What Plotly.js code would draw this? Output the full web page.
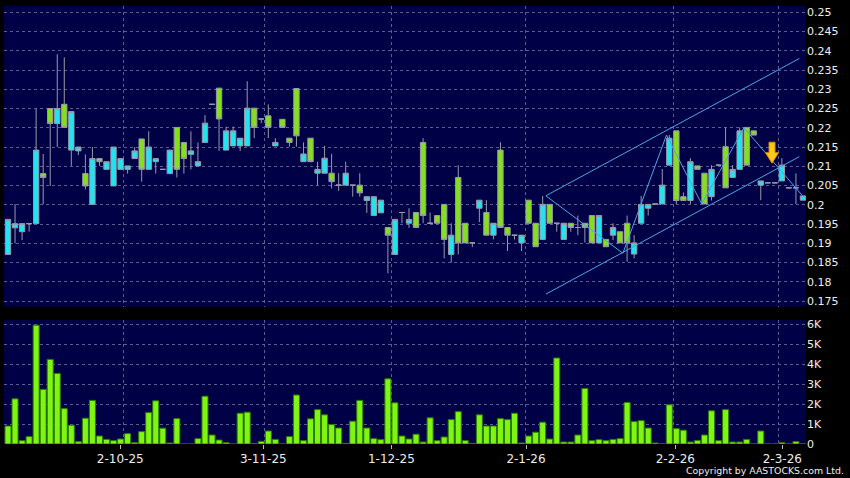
<!DOCTYPE html>
<html>
<head>
<meta charset="utf-8">
<script src="https://cdn.plot.ly/plotly-3.0.1.min.js"></script>
<style>
html,body{margin:0;padding:0;background:#000;}
#chart{width:850px;height:478px;}
</style>
</head>
<body>
<div id="chart"></div>
<script>
// ---- data ----
const openP  = [0.1871,0.1940,0.1930,0.1951,0.1951,0.2081,0.2250,0.2211,0.2261,0.2142,
0.2140,0.2081,0.2001,0.2120,0.2092,0.2049,0.2092,0.2092,0.2120,0.2171,
0.2092,0.2112,0.2092,0.2081,0.2201,0.2162,0.2131,0.2101,0.2162,0.2261,
0.2303,0.2142,0.2153,0.2153,0.2153,0.2251,0.2223,0.2231,0.2153,0.2222,
0.2173,0.2302,0.2112,0.2173,0.2082,0.2082,0.2082,0.2051,0.2051,0.2051,
0.2051,0.2011,0.1972,0.1979,0.1941,0.1871,0.1980,0.1952,0.1980,0.2162,
0.1952,0.1972,0.2001,0.1871,0.2071,0.1952,0.1901,0.1991,0.1980,0.1921,
0.2142,0.1941,0.1921,0.1901,0.2012,0.1952,0.1910,0.2001,0.1952,0.1910,
0.1952,0.1941,0.1952,0.1972,0.1901,0.1910,0.1921,0.1930,0.1952,0.1872,
0.1952,0.1991,0.2002,0.2002,0.2103,0.2192,0.2021,0.2011,0.2101,0.2082,
0.2021,0.2103,0.2151,0.2071,0.2092,0.2201,0.2192,0.2051,0.2057,0.2057,
0.2062,0.2044,0.2044,0.2012];
const highP  = [0.1962,0.2002,0.1951,0.1951,0.2250,0.2132,0.2250,0.2391,0.2383,0.2242,
0.2150,0.2131,0.2150,0.2120,0.2112,0.2150,0.2120,0.2101,0.2150,0.2171,
0.2191,0.2120,0.2092,0.2142,0.2201,0.2162,0.2191,0.2162,0.2233,0.2261,
0.2303,0.2203,0.2203,0.2173,0.2321,0.2251,0.2223,0.2261,0.2173,0.2222,
0.2173,0.2302,0.2162,0.2173,0.2112,0.2153,0.2132,0.2082,0.2112,0.2051,
0.2082,0.2021,0.2021,0.2012,0.1941,0.1962,0.1980,0.1991,0.1980,0.2173,
0.1980,0.1972,0.2001,0.1952,0.2103,0.1952,0.1901,0.2012,0.2012,0.1952,
0.2162,0.1941,0.1921,0.1921,0.2012,0.1952,0.2023,0.2001,0.1952,0.1952,
0.1952,0.1972,0.1952,0.1972,0.1972,0.1910,0.1952,0.1930,0.1972,0.1921,
0.2023,0.2001,0.2002,0.2093,0.2181,0.2192,0.2032,0.2121,0.2101,0.2082,
0.2103,0.2103,0.2201,0.2103,0.2201,0.2201,0.2192,0.2062,0.2057,0.2057,
0.2121,0.2044,0.2082,0.2023];
const lowP   = [0.1871,0.1900,0.1908,0.1930,0.1951,0.2001,0.2049,0.2150,0.2201,0.2101,
0.2129,0.2040,0.2001,0.2101,0.2092,0.2049,0.2092,0.2081,0.2120,0.2060,
0.2092,0.2081,0.2092,0.2081,0.2071,0.2081,0.2092,0.2101,0.2162,0.2261,
0.2140,0.2142,0.2153,0.2140,0.2153,0.2173,0.2212,0.2173,0.2153,0.2201,
0.2151,0.2151,0.2112,0.2112,0.2051,0.2082,0.2043,0.2036,0.2051,0.2021,
0.2021,0.1979,0.1972,0.1979,0.1822,0.1871,0.1952,0.1940,0.1941,0.1952,
0.1952,0.1952,0.1861,0.1850,0.1871,0.1901,0.1890,0.1955,0.1921,0.1910,
0.1941,0.1880,0.1910,0.1880,0.1952,0.1891,0.1910,0.1952,0.1930,0.1910,
0.1930,0.1921,0.1902,0.1901,0.1901,0.1891,0.1908,0.1901,0.1852,0.1861,
0.1952,0.1972,0.2002,0.2002,0.2103,0.2002,0.2011,0.2002,0.2092,0.2002,
0.2011,0.2103,0.2044,0.2071,0.2092,0.2103,0.2181,0.2012,0.2057,0.2057,
0.2062,0.2044,0.2002,0.2012];
const closeP = [0.1962,0.1951,0.1951,0.1951,0.2142,0.2071,0.2211,0.2250,0.2201,0.2242,
0.2150,0.2049,0.2120,0.2112,0.2112,0.2150,0.2120,0.2101,0.2140,0.2092,
0.2150,0.2120,0.2092,0.2142,0.2092,0.2120,0.2140,0.2112,0.2212,0.2261,
0.2223,0.2192,0.2192,0.2173,0.2251,0.2201,0.2223,0.2201,0.2162,0.2201,
0.2162,0.2179,0.2132,0.2112,0.2092,0.2121,0.2060,0.2051,0.2082,0.2051,
0.2031,0.2021,0.2021,0.2012,0.1921,0.1962,0.1980,0.1962,0.1941,0.1972,
0.1952,0.1952,0.1910,0.1921,0.1901,0.1901,0.1901,0.2012,0.1921,0.1952,
0.1941,0.1921,0.1921,0.1921,0.1952,0.1891,0.2001,0.1952,0.1952,0.1952,
0.1941,0.1941,0.1941,0.1901,0.1972,0.1891,0.1941,0.1901,0.1901,0.1901,
0.2001,0.2001,0.2002,0.2051,0.2173,0.2011,0.2011,0.2112,0.2092,0.2002,
0.2092,0.2103,0.2044,0.2092,0.2192,0.2103,0.2181,0.2062,0.2057,0.2057,
0.2103,0.2044,0.2044,0.2023];
// volume in thousands of shares
const volumeK = [0.90,2.26,0.17,0.37,5.94,2.73,4.23,3.53,1.77,0.94,
0.12,1.29,2.18,0.40,0.23,0.17,0.25,0.52,0.07,0.62,
1.57,2.16,0.79,0.05,1.27,0,0,0.27,2.39,0.45,
0.20,0.07,0,1.54,1.59,0.02,0.13,0.65,0.23,0,
0.37,2.45,0.17,1.26,1.72,1.46,0.97,0.80,0.03,1.14,
2.18,0.80,0.27,0.22,3.26,2.06,0.40,0.25,0.49,0.10,
1.31,0.17,0.35,1.22,1.62,0.17,0.03,1.46,0.90,0.90,
1.27,1.22,1.54,0.05,0.40,0.59,1.09,0.25,4.30,0.10,
0.10,0.45,2.78,0.17,0.22,0.17,0.23,0.27,2.08,1.12,
1.17,0.80,0.05,0,1.96,0.77,0.69,0.10,0.18,0.45,
1.66,0.17,1.72,0.10,0.10,0.23,0,0.65,0,0,
0.07,0,0.12,0];
const dayIdx = openP.map((_, i) => i);

// date axis labels (trading-day index positions)
const dateLabels   = ['2-10-25','3-11-25','1-12-25','2-1-26','2-2-26','2-3-26'];
const dateLabelIdx = [15.96, 36.29, 54.49, 73.63, 94.85, 110.06];
const dateGridIdx  = [16.39, 36.43, 54.51, 73.56, 94.57, 109.52];

// price & volume tick labels
const priceTicks = [0.175,0.18,0.185,0.19,0.195,0.2,0.205,0.21,0.215,0.22,0.225,0.23,0.235,0.24,0.245,0.25];
const priceTickText = ['0.175','0.18','0.185','0.19','0.195','0.2','0.205','0.21','0.215','0.22','0.225','0.23','0.235','0.24','0.245','0.25'];
const volTicks = [0,1,2,3,4,5,6];
const volTickText = ['0','1K','2K','3K','4K','5K','6K'];

// drawn channel & zigzag
const channelUpperX = [76.47, 112.48];
const channelUpperY = [0.20235, 0.2380];
const channelLowerX = [76.47, 112.48];
const channelLowerY = [0.1768, 0.2125];
const zigzagX = [76.47, 87.4, 93.6, 98.6, 104.6, 113.05];
const zigzagY = [0.2023, 0.1874, 0.2181, 0.2002, 0.2200, 0.2021];
// signal arrow (tip)
const arrowIdx = 108.6;
const arrowPrice = 0.2108;

// ---- styling ----
const NAVY = '#000046';
const GRID = '#5c5c92';
const CYAN = '#22e4f0';
const LIME = '#84e01c';
const WICK = '#9a9aa8';
const LINE = '#4aa6e6';
const TXT  = '#eeeeee';
const FONT = 'DejaVu Sans, Verdana, sans-serif';
const xRange = [-0.569, 113.43];

const traces = [
  {
    type: 'candlestick', x: dayIdx, open: openP, high: highP, low: lowP, close: closeP,
    xaxis: 'x', yaxis: 'y',
    increasing: {fillcolor: CYAN, line: {color: WICK, width: 1}},
    decreasing: {fillcolor: LIME, line: {color: WICK, width: 1}},
    whiskerwidth: 0, hoverinfo: 'skip', showlegend: false
  },
  {type: 'scatter', mode: 'lines', x: channelUpperX, y: channelUpperY, xaxis: 'x', yaxis: 'y',
   line: {color: LINE, width: 1}, hoverinfo: 'skip', showlegend: false},
  {type: 'scatter', mode: 'lines', x: channelLowerX, y: channelLowerY, xaxis: 'x', yaxis: 'y',
   line: {color: LINE, width: 1}, hoverinfo: 'skip', showlegend: false},
  {type: 'scatter', mode: 'lines', x: zigzagX, y: zigzagY, xaxis: 'x', yaxis: 'y',
   line: {color: LINE, width: 1}, hoverinfo: 'skip', showlegend: false},
  {
    type: 'bar', x: dayIdx, y: volumeK, xaxis: 'x2', yaxis: 'y2',
    marker: {color: '#7ef512', line: {color: '#2e7a00', width: 1}},
    hoverinfo: 'skip', showlegend: false
  }
];

const yTickFont = {family: FONT, size: 11, color: TXT};

const layout = {
  width: 850, height: 478,
  margin: {l: 4, r: 44, t: 6, b: 34, pad: 0},
  paper_bgcolor: '#000000',
  plot_bgcolor: NAVY,
  showlegend: false,
  boxgap: 0.24, boxgroupgap: 0,
  bargap: 0.14,
  xaxis: {
    domain: [0, 1], anchor: 'y', range: xRange,
    tickmode: 'array', tickvals: dateGridIdx, showticklabels: false, ticks: '',
    showgrid: true, gridcolor: GRID, griddash: '3px,3px', gridwidth: 1,
    zeroline: false, showline: false, rangeslider: {visible: false}, fixedrange: true
  },
  yaxis: {
    domain: [0.3139, 1], anchor: 'x', side: 'right', range: [0.17357, 0.25164],
    tickmode: 'array', tickvals: priceTicks, ticktext: priceTickText,
    tickprefix: '- ', ticks: '', tickfont: yTickFont,
    showgrid: true, gridcolor: GRID, griddash: '3px,3px', gridwidth: 1,
    zeroline: false, showline: false, fixedrange: true
  },
  xaxis2: {
    domain: [0, 1], anchor: 'y2', range: xRange,
    tickmode: 'array', tickvals: dateLabelIdx, ticktext: dateLabels,
    ticks: 'outside', ticklen: 4, tickcolor: '#bbbbbb', tickwidth: 1,
    tickfont: {family: FONT, size: 12, color: TXT},
    showgrid: false,
    minor: {tickmode: 'array', tickvals: dateGridIdx, showgrid: true, gridcolor: GRID, griddash: '3px,3px', gridwidth: 1, ticks: ''},
    zeroline: false, showline: false, fixedrange: true
  },
  yaxis2: {
    domain: [0, 0.2831], anchor: 'x2', side: 'right', range: [0, 6.2],
    tickmode: 'array', tickvals: volTicks, ticktext: volTickText,
    tickprefix: '- ', ticks: '', tickfont: yTickFont,
    showgrid: true, gridcolor: GRID, griddash: '3px,3px', gridwidth: 1,
    zeroline: false, showline: false, fixedrange: true
  },
  shapes: [{
    type: 'path', xref: 'x', yref: 'y', layer: 'above',
    xsizemode: 'pixel', ysizemode: 'pixel', xanchor: arrowIdx, yanchor: arrowPrice,
    path: 'M0,0 L-6.5,10.5 L-3,10.5 L-3,21 L3,21 L3,10.5 L6.5,10.5 Z',
    fillcolor: '#f8c81c', line: {color: '#d98a00', width: 1}
  }],
  annotations: [{
    text: 'Copyright by AASTOCKS.com Ltd.', xref: 'paper', yref: 'paper',
    x: 1.0499, y: -0.0605, xanchor: 'right', yanchor: 'middle', showarrow: false,
    font: {family: FONT, size: 9.4, color: TXT}
  }]
};

Plotly.newPlot('chart', traces, layout, {staticPlot: true, displayModeBar: false});
</script>
</body>
</html>
